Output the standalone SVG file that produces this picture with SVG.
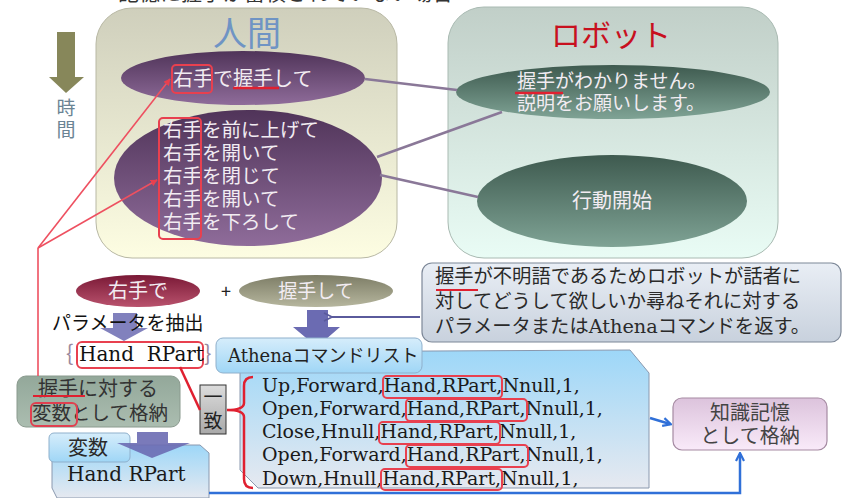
<svg xmlns="http://www.w3.org/2000/svg" width="843" height="498" viewBox="0 0 843 498">
<defs>
<linearGradient id="gHuman" x1="0" y1="0" x2="0" y2="1"><stop offset="0" stop-color="#cfcfbc"/><stop offset="1" stop-color="#fdfde2"/></linearGradient>
<linearGradient id="gRobot" x1="0" y1="0" x2="0" y2="1"><stop offset="0" stop-color="#c1cfc8"/><stop offset="1" stop-color="#e9fcf5"/></linearGradient>
<linearGradient id="gPurple" x1="0" y1="0" x2="0" y2="1"><stop offset="0" stop-color="#503459"/><stop offset="1" stop-color="#8f6c9a"/></linearGradient>
<linearGradient id="gGreen" x1="0" y1="0" x2="0" y2="1"><stop offset="0" stop-color="#3e5a4f"/><stop offset="1" stop-color="#7fa395"/></linearGradient>
<linearGradient id="gRed" x1="0" y1="0" x2="0" y2="1"><stop offset="0" stop-color="#7a1936"/><stop offset="1" stop-color="#b9526d"/></linearGradient>
<linearGradient id="gOlive" x1="0" y1="0" x2="0" y2="1"><stop offset="0" stop-color="#7d7d66"/><stop offset="1" stop-color="#b6b69e"/></linearGradient>
<linearGradient id="gTab" x1="0" y1="0" x2="0" y2="1"><stop offset="0" stop-color="#d6edfb"/><stop offset="1" stop-color="#9fd6f6"/></linearGradient>
<linearGradient id="gPanel" x1="0" y1="0" x2="0" y2="1"><stop offset="0" stop-color="#9dd7f8"/><stop offset="1" stop-color="#e6e9f0"/></linearGradient>
<linearGradient id="gExpl" x1="0" y1="0" x2="0" y2="1"><stop offset="0" stop-color="#e9eef5"/><stop offset="1" stop-color="#c8d1dd"/></linearGradient>
<linearGradient id="gKnow" x1="0" y1="0" x2="0" y2="1"><stop offset="0" stop-color="#dcc3dc"/><stop offset="1" stop-color="#f9eaf9"/></linearGradient>
<linearGradient id="gLabel" x1="0" y1="0" x2="0" y2="1"><stop offset="0" stop-color="#93a89a"/><stop offset="1" stop-color="#abbdb0"/></linearGradient>
<linearGradient id="gMatch" x1="0" y1="0" x2="0" y2="1"><stop offset="0" stop-color="#dcdcdc"/><stop offset="1" stop-color="#a9a9a9"/></linearGradient>
<marker id="mRed" viewBox="0 0 10 10" refX="9" refY="5" markerWidth="7" markerHeight="7" orient="auto" markerUnits="userSpaceOnUse"><path d="M0,0 L10,5 L0,10 Z" fill="#e8404f"/></marker>
<marker id="mBlue" viewBox="0 0 10 10" refX="8" refY="5" markerWidth="10" markerHeight="10" orient="auto" markerUnits="userSpaceOnUse"><path d="M1,1 L9,5 L1,9" fill="none" stroke="#3070d8" stroke-width="2.2"/></marker>
<marker id="mPur" viewBox="0 0 10 10" refX="1" refY="5" markerWidth="10" markerHeight="10" orient="auto-start-reverse" markerUnits="userSpaceOnUse"><path d="M9,1 L1,5 L9,9" fill="none" stroke="#5a5a9c" stroke-width="1.8"/></marker>
<style>
.jp{font-family:"Noto Sans CJK JP","Noto Sans",sans-serif}
.sf{font-family:"DejaVu Serif","Noto Sans CJK JP",serif}
.wt{fill:#f2ecf2}
.rbox{fill:none;stroke:#e8404f;stroke-width:2;rx:4}
.rline{stroke:#e02030;stroke-width:2.5;fill:none}
.conn{stroke:#8a7898;stroke-width:2.5;fill:none}
.redc{stroke:#ee5060;stroke-width:1.6;fill:none}
.bluec{stroke:#3070d8;stroke-width:2.5;fill:none}
.parrow{fill:#6b6bb2}
</style>
</defs>

<!-- partially visible heading (cut off at top) -->
<text class="jp" x="118" y="0" font-size="21" fill="#333">記憶に握手が蓄積されていない場合</text>

<g id="time">
<polygon points="57,32 75,32 75,77 84,77 66,93 49,77 57,77" fill="#87875a"/>
<text class="jp" x="66" y="115" font-size="19" fill="#6b8494" text-anchor="middle">時</text>
<text class="jp" x="66" y="137" font-size="19" fill="#6b8494" text-anchor="middle">間</text>
</g>

<g id="human">
<rect x="96" y="8" width="301" height="250" rx="36" fill="url(#gHuman)" stroke="#b8b8a4" stroke-width="1"/>
<text class="jp" x="247" y="46" font-size="34" fill="#6f94c4" text-anchor="middle">人間</text>
</g>

<g id="robot">
<rect x="448" y="7" width="330" height="251" rx="36" fill="url(#gRobot)" stroke="#a9bab2" stroke-width="1"/>
<text class="jp" x="611" y="46" font-size="30" fill="#c8101e" text-anchor="middle">ロボット</text>
</g>

<g id="human-ask">
<ellipse cx="243" cy="78" rx="122" ry="27" fill="url(#gPurple)"/>
<text class="jp wt" x="173" y="86" font-size="20">右手で握手して</text>
<rect class="rbox" x="172" y="65" width="40" height="28"/>
<path d="M233,88 L279,88" stroke="#e02030" stroke-width="2.5"/>
</g>

<g id="human-explain">
<ellipse cx="248" cy="178" rx="134" ry="68" fill="url(#gPurple)"/>
<g class="jp wt" font-size="19.5">
<text x="163" y="137">右手を前に上げて</text>
<text x="163" y="160">右手を開いて</text>
<text x="163" y="183">右手を閉じて</text>
<text x="163" y="206">右手を開いて</text>
<text x="163" y="229">右手を下ろして</text>
</g>
<rect class="rbox" x="159" y="118" width="42" height="121"/>
</g>

<g id="robot-ask">
<ellipse cx="613" cy="92" rx="157" ry="27" fill="url(#gGreen)"/>
<text class="jp wt" x="517" y="88" font-size="19">握手がわかりません。</text>
<text class="jp wt" x="517" y="110" font-size="19">説明をお願いします。</text>
<path d="M515,93 L563,93" stroke="#e02030" stroke-width="2.5"/>
</g>

<g id="robot-act">
<ellipse cx="612" cy="201" rx="135" ry="46" fill="url(#gGreen)"/>
<text class="jp wt" x="612" y="208" font-size="20" text-anchor="middle">行動開始</text>
</g>

<g id="param-right">
<ellipse cx="138" cy="291" rx="62" ry="16" fill="url(#gRed)"/>
<text class="jp wt" x="138" y="298" font-size="20" text-anchor="middle">右手で</text>
</g>
<text class="jp" x="226" y="298" font-size="18" fill="#222" text-anchor="middle">+</text>
<g id="param-shake">
<ellipse cx="316" cy="291" rx="77" ry="16" fill="url(#gOlive)"/>
<text class="jp wt" x="316" y="298" font-size="19" text-anchor="middle">握手して</text>
</g>

<g id="extract">
<polygon class="parrow" opacity="0.85" points="113,313 137,313 137,328 148,328 124,341 100,328 113,328"/>
<text class="jp" x="52" y="330" font-size="19" fill="#111">パラメータを抽出</text>
<text class="jp" x="66" y="361" font-size="22" fill="#9a8aa0">{</text>
<text class="jp" x="204" y="361" font-size="22" fill="#9a8aa0">}</text>
<rect x="77" y="342" width="126" height="26" rx="5" fill="#ffffff" stroke="#e8404f" stroke-width="2"/>
<text class="sf" x="79" y="361" font-size="20" fill="#111" xml:space="preserve">Hand  RPart</text>
</g>

<g id="athena-arrow">
<polygon class="parrow" points="307,310 328,310 328,327 340,327 317,347 293,327 307,327"/>
</g>

<g id="explanation">
<rect x="422" y="263" width="419" height="79" rx="10" fill="url(#gExpl)" stroke="#7d8898" stroke-width="1.2"/>
<g class="sf" font-size="19.3" fill="#2a2a2a">
<text x="435" y="283">握手が不明語であるためロボットが話者に</text>
<text x="435" y="308">対してどうして欲しいか尋ねそれに対する</text>
<text x="435" y="333">パラメータまたはAthenaコマンドを返す。</text>
</g>
<path d="M436,290 L478,290" stroke="#e02030" stroke-width="2"/>
</g>

<g id="athena-list">
<path d="M240,352 L630,350 L649,373 L649,488 L258,488 L240,470 Z" fill="url(#gPanel)" stroke="#8a98ae" stroke-width="1"/>
<rect x="216" y="338" width="206" height="35" rx="7" fill="url(#gTab)" stroke="#8fb0cc" stroke-width="1"/>
<text class="sf" x="228" y="362" font-size="18" fill="#222">Athenaコマンドリスト</text>
<g class="sf" font-size="19" fill="#1a1a1a">
<text x="262" y="392">Up,Forward,Hand,RPart,Nnull,1,</text>
<text x="262" y="415">Open,Forward,Hand,RPart,Nnull,1,</text>
<text x="262" y="438">Close,Hnull,Hand,RPart,Nnull,1,</text>
<text x="262" y="461">Open,Forward,Hand,RPart,Nnull,1,</text>
<text x="262" y="485">Down,Hnull,Hand,RPart,Nnull,1,</text>
</g>
<rect class="rbox" x="383" y="376" width="119" height="22"/>
<rect class="rbox" x="406" y="399" width="121" height="22"/>
<rect class="rbox" x="379" y="422" width="121" height="22"/>
<rect class="rbox" x="406" y="445" width="122" height="22"/>
<rect class="rbox" x="381" y="469" width="121" height="21"/>
</g>

<g id="match">
<rect x="200" y="385" width="26" height="49" fill="url(#gMatch)" stroke="#333" stroke-width="1"/>
<text class="jp" x="213" y="404" font-size="19" fill="#222" text-anchor="middle">一</text>
<text class="jp" x="213" y="428" font-size="19" fill="#222" text-anchor="middle">致</text>
</g>

<g id="store-var">
<rect x="17" y="376" width="163" height="51" rx="9" fill="url(#gLabel)" stroke="#8a9a8e" stroke-width="1"/>
<text class="jp" x="38" y="396" font-size="20" fill="#333">握手に対する</text>
<text class="jp" x="32" y="420" font-size="19.5" fill="#333">変数として格納</text>
<path d="M33,396 L85,396" stroke="#e02030" stroke-width="2.2"/>
<rect x="31" y="403" width="46" height="23" rx="5" fill="none" stroke="#e04050" stroke-width="2"/>
</g>

<g id="variable">
<path d="M52,449 Q52,445 56,445 L200,445 L209,453 L209,498 L57,498 L52,488 Z" fill="url(#gPanel)" stroke="#8a98ae" stroke-width="1"/>
<rect x="49" y="433" width="81" height="29" rx="5" fill="url(#gTab)" stroke="#8fb0cc" stroke-width="1"/>
<text class="jp" x="68" y="455" font-size="20" fill="#2a2a2a">変数</text>
<polygon class="parrow" opacity="0.9" points="137,432 168,432 168,443 190,443 152,458 117,443 137,443"/>
<text class="sf" x="67" y="481" font-size="20" fill="#1a1a1a">Hand RPart</text>
</g>

<g id="knowledge">
<rect x="673" y="398" width="154" height="52" rx="9" fill="url(#gKnow)" stroke="#a58aa2" stroke-width="1.2"/>
<text class="jp" x="750" y="420" font-size="20" fill="#444" text-anchor="middle">知識記憶</text>
<text class="jp" x="750" y="443" font-size="20" fill="#444" text-anchor="middle">として格納</text>
</g>

<g id="connectors">
<path class="conn" d="M365,79 L457,90"/>
<path class="conn" d="M377,157 L502,112"/>
<path class="conn" d="M380,175 L478,197"/>
<path class="redc" d="M38,248 L38,376"/>
<path class="redc" d="M38,248 L170,79" marker-end="url(#mRed)"/>
<path class="redc" d="M38,248 L157,180" marker-end="url(#mRed)"/>
<path class="rline" d="M180,367 L200,410"/>
<path class="rline" d="M253,377 Q244,377 244,386 L244,403 Q244,410 227,410 Q244,410 244,417 L244,479 Q244,488 253,488"/>
<path d="M420,317 L332,317" stroke="#5a5a9c" stroke-width="1.8" fill="none" marker-end="url(#mPur)"/>
<path class="bluec" d="M650,418 L670,424" marker-end="url(#mBlue)"/>
<path class="bluec" d="M209,493 L740,493 L740,454" marker-end="url(#mBlue)"/>
</g>
</svg>
